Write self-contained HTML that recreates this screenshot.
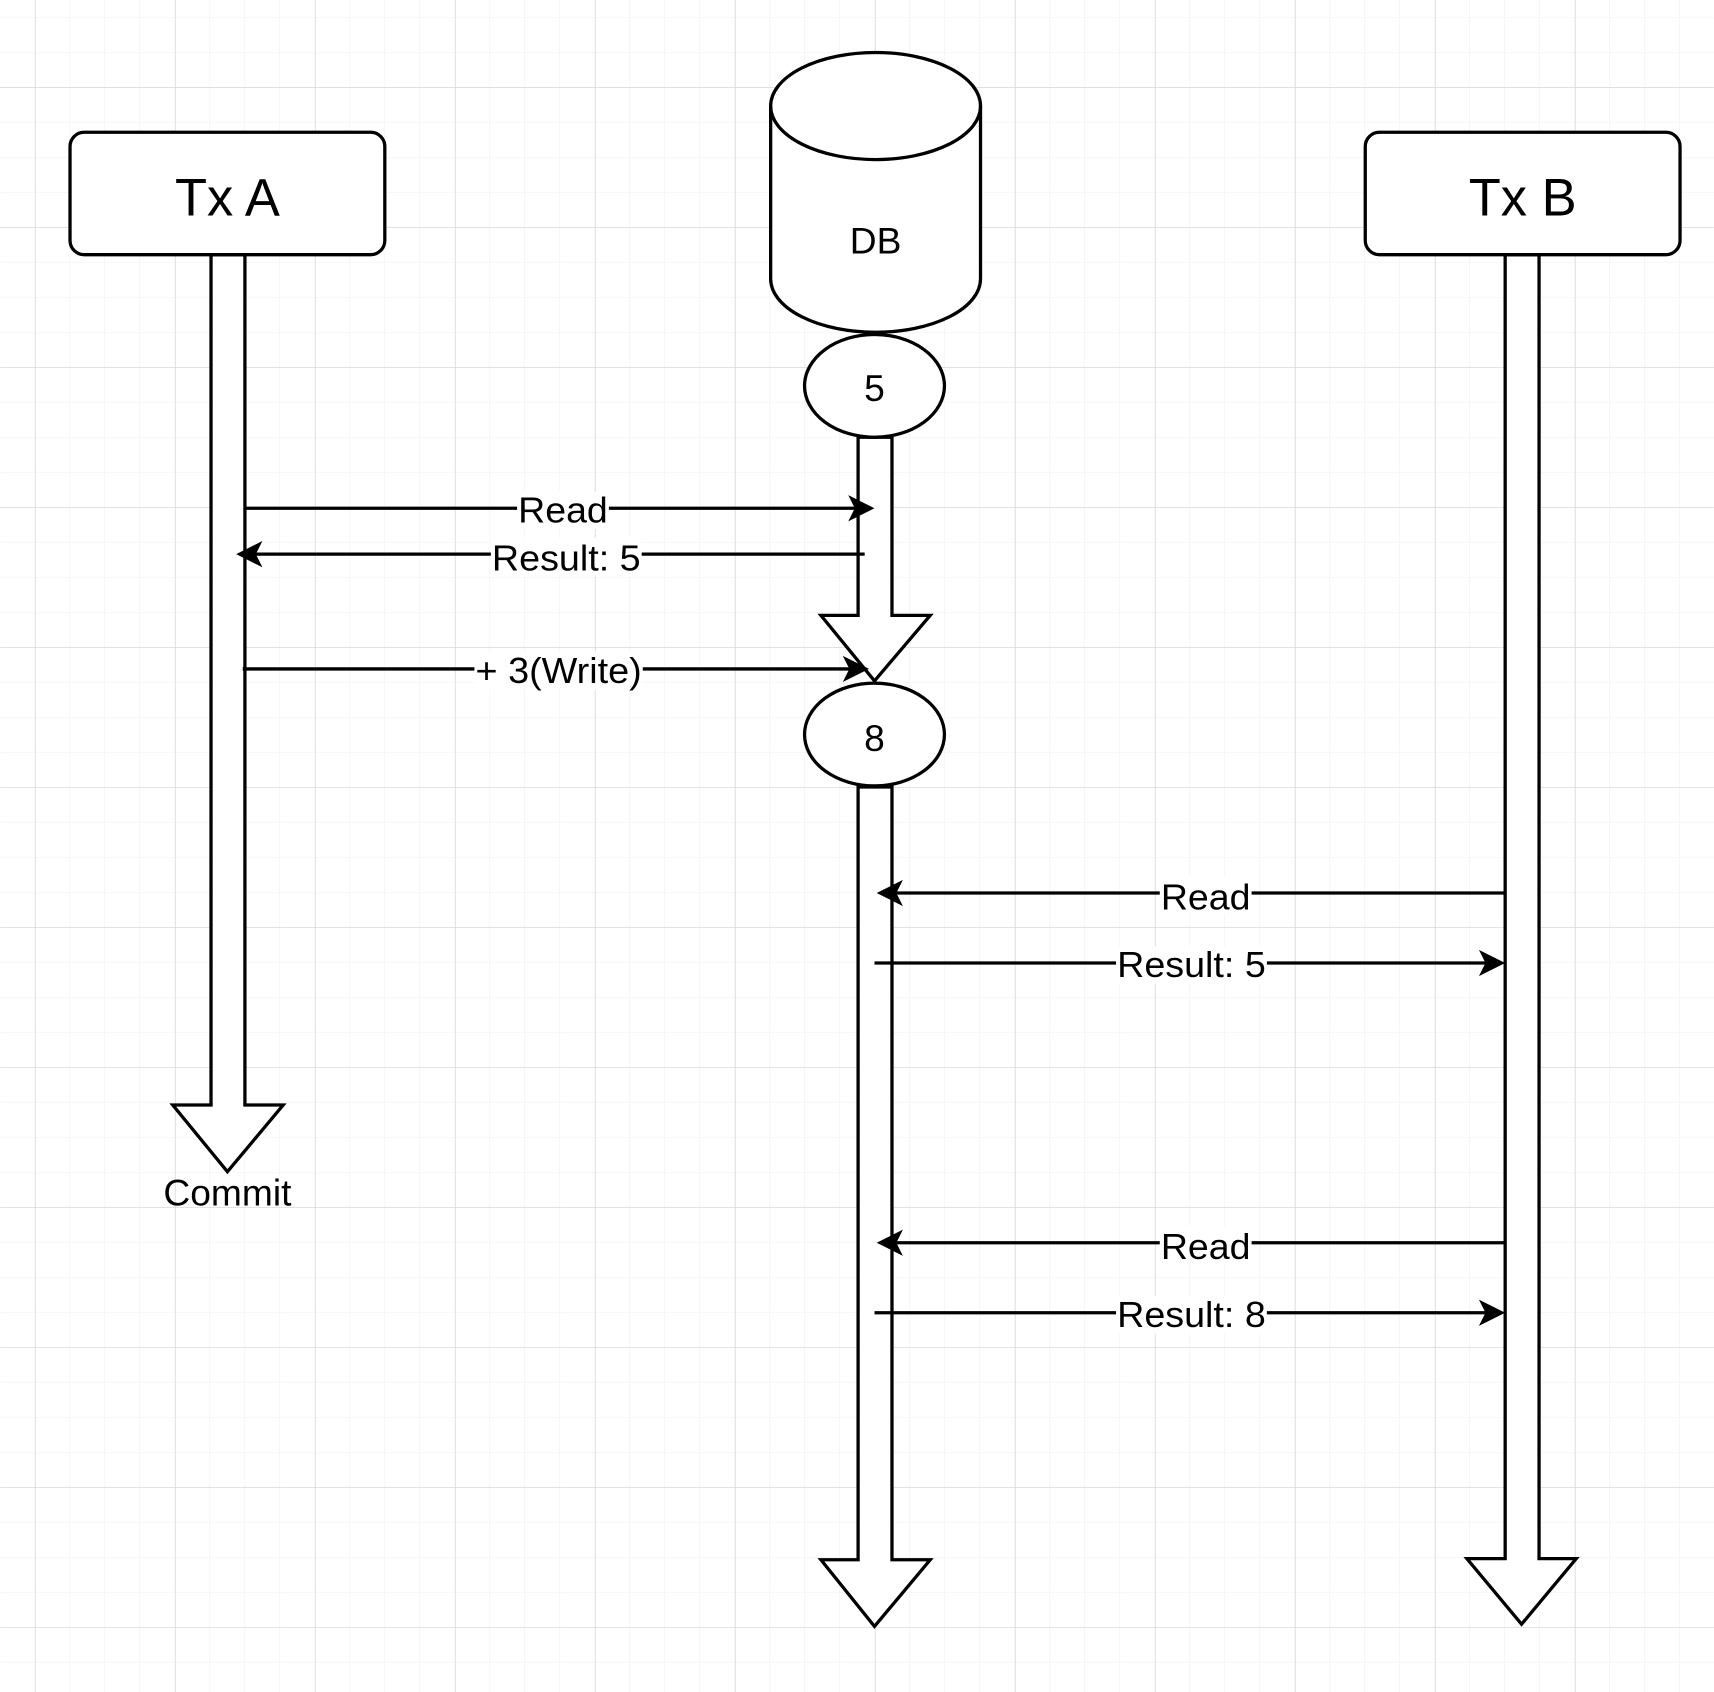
<!DOCTYPE html>
<html><head><meta charset="utf-8"><style>
html,body{margin:0;padding:0;background:#fff;}
svg{display:block;}
text{font-family:"Liberation Sans",Arial,sans-serif;fill:#000;}
</style></head><body>
<svg width="1714" height="1692" viewBox="0 0 1568 1548" xmlns="http://www.w3.org/2000/svg">
<defs>
<pattern id="minor" x="0" y="16" width="32.02" height="32.02" patternUnits="userSpaceOnUse">
<path d="M32.02 0V32.02M0 32.02H32.02" fill="none" stroke="#efefef" stroke-width="1"/>
</pattern>
<pattern id="major" x="32" y="80" width="128.08" height="128.08" patternUnits="userSpaceOnUse">
<path d="M0 0V128.08M0 0H128.08" fill="none" stroke="#d0d0d0" stroke-width="1"/>
</pattern>
</defs>
<rect width="1568" height="1548" fill="#fff"/>
<rect width="1568" height="1548" fill="url(#minor)"/>
<rect width="1568" height="1548" fill="url(#major)"/>

<g fill="#fff" stroke="#000" stroke-width="3" stroke-linejoin="miter">
<path d="M193 233V1011H158L208 1072L259 1011H224V233Z"/>
<path d="M1377 233V1426H1342L1392 1486L1442 1426H1408V233Z"/>
<path d="M785 400V563H751L800 623L851 563H816V400Z"/>
<path d="M785 720V1427H751L800 1488L851 1427H816V720Z"/>
<rect x="64" y="121" width="288" height="112" rx="13"/>
<rect x="1249" y="121" width="288" height="112" rx="13"/>
<path d="M705 97A96 49 0 0 1 897 97V255A96 49 0 0 1 705 255Z"/>
<path d="M705 97A96 49 0 0 0 897 97" fill="none"/>
<ellipse cx="800" cy="353" rx="64" ry="47"/>
<ellipse cx="800" cy="672" rx="64" ry="47"/>
</g>

<text x="208" y="197" font-size="48" text-anchor="middle">Tx A</text>
<text x="1393" y="197" font-size="48" text-anchor="middle">Tx B</text>
<text x="801" y="232" font-size="34" text-anchor="middle">DB</text>
<text x="800" y="367" font-size="34" text-anchor="middle">5</text>
<text x="800" y="687" font-size="34" text-anchor="middle">8</text>
<text x="208" y="1103" font-size="34" text-anchor="middle">Commit</text>

<g stroke="#000" stroke-width="3" fill="none">
<line x1="225" y1="465" x2="790" y2="465"/>
<line x1="791" y1="507" x2="226" y2="507"/>
<line x1="222" y1="612" x2="785" y2="612"/>
<line x1="1377" y1="817" x2="812" y2="817"/>
<line x1="800" y1="881" x2="1367" y2="881"/>
<line x1="1377" y1="1137" x2="812" y2="1137"/>
<line x1="800" y1="1201" x2="1367" y2="1201"/>
</g>
<g fill="#000">
<path d="M800 465L776 453L782 465L776 477Z"/>
<path d="M216 507L240 495L234 507L240 519Z"/>
<path d="M795 612L771 600L777 612L771 624Z"/>
<path d="M802 817L826 805L820 817L826 829Z"/>
<path d="M1377 881L1353 869L1359 881L1353 893Z"/>
<path d="M802 1137L826 1125L820 1137L826 1149Z"/>
<path d="M1377 1201L1353 1189L1359 1201L1353 1213Z"/>
</g>

<g fill="#fff">
<rect x="473" y="450" width="84" height="34"/>
<rect x="449" y="492" width="138" height="34"/>
<rect x="434" y="597" width="154" height="34"/>
<rect x="1061" y="802" width="84" height="34"/>
<rect x="1021" y="866" width="138" height="34"/>
<rect x="1061" y="1122" width="84" height="34"/>
<rect x="1021" y="1186" width="138" height="34"/>
</g>
<g font-size="33" text-anchor="middle">
<text x="515" y="478" textLength="82" lengthAdjust="spacingAndGlyphs">Read</text>
<text x="518" y="522" textLength="136" lengthAdjust="spacingAndGlyphs">Result: 5</text>
<text x="511" y="625" textLength="152" lengthAdjust="spacingAndGlyphs">+ 3(Write)</text>
<text x="1103" y="832" textLength="82" lengthAdjust="spacingAndGlyphs">Read</text>
<text x="1090" y="894" textLength="136" lengthAdjust="spacingAndGlyphs">Result: 5</text>
<text x="1103" y="1152" textLength="82" lengthAdjust="spacingAndGlyphs">Read</text>
<text x="1090" y="1214" textLength="136" lengthAdjust="spacingAndGlyphs">Result: 8</text>
</g>
</svg>
</body></html>
